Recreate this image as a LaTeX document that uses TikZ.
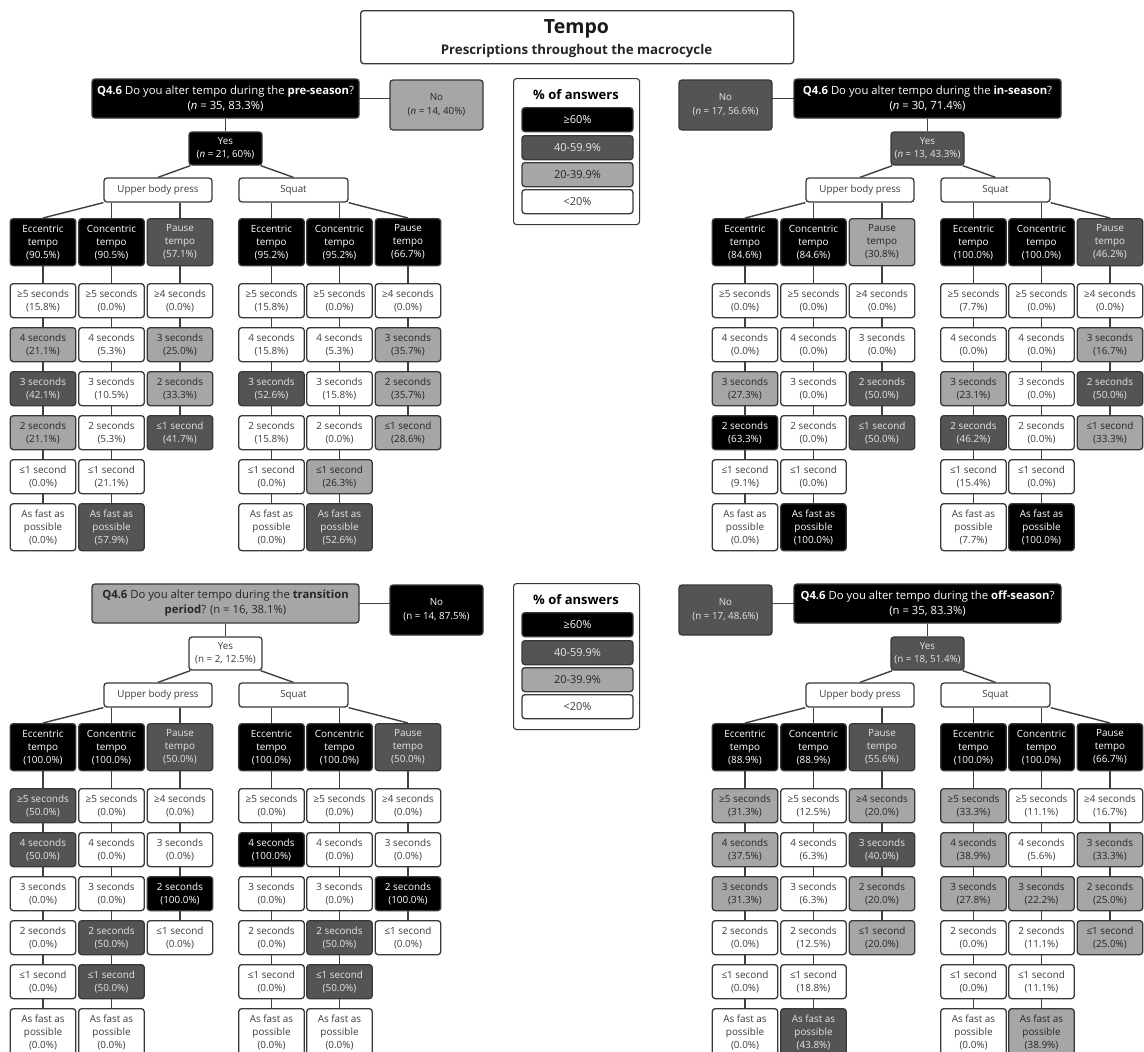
\documentclass[tikz,border=0pt]{standalone}
\usepackage{fontspec}
\setmainfont{Open Sans}
\usetikzlibrary{calc}
\pgfdeclarelayer{bg}
\pgfsetlayers{bg,main}

% shade scale: K >= 60 %, D 40-59.9 %, L 20-39.9 %, W < 20 %
\definecolor{fillK}{HTML}{000000}
\definecolor{fillD}{HTML}{545454}
\definecolor{fillL}{HTML}{A6A6A6}
\definecolor{fillW}{HTML}{FFFFFF}
\definecolor{txtK}{HTML}{FFFFFF}
\definecolor{txtD}{HTML}{E6E6E6}
\definecolor{txtL}{HTML}{262626}
\definecolor{txtW}{HTML}{3C3C3C}
\definecolor{edge}{HTML}{383838}
\definecolor{wirecol}{HTML}{404040}

\tikzset{
  box/.style={draw=edge, line width=1.3pt, rounded corners=3pt, align=center, inner sep=0pt},
  tone/.style={fill=fill#1, text=txt#1},
  cell/.style={box, font=\fontsize{9.9}{13}\selectfont, minimum width=65.5pt},
  qfont/.style={font=\fontsize{11.3}{15}\selectfont},
  smallfont/.style={font=\fontsize{9.8}{13.5}\selectfont},
  groupfont/.style={font=\fontsize{9.8}{11}\selectfont},
  wire/.style={draw=wirecol, line width=1.4pt},
}

% row captions: e = eccentric/concentric column, p = pause column
\newcommand{\setlbl}[2]{%
  \if#1e%
    \ifcase#2\or\def\lbl{≥5 seconds}\or\def\lbl{4 seconds}\or\def\lbl{3 seconds}%
    \or\def\lbl{2 seconds}\or\def\lbl{≤1 second}\or\def\lbl{As fast as\\possible}\fi
  \else
    \ifcase#2\or\def\lbl{≥4 seconds}\or\def\lbl{3 seconds}\or\def\lbl{2 seconds}%
    \or\def\lbl{≤1 second}\fi
  \fi}

% one tempo column: #1 name, #2 kind, #3 x centre, #4 tone, #5 tempo type, #6 percent, #7 tone/percent rows
\newcommand{\tcol}[7]{%
  \node[cell, tone=#4, minimum height=47pt, anchor=north] (#1-0) at (#3,218) {#5\\tempo\\(#6\%)};
  \foreach \tonecode/\pct [count=\i] in {#7} {
    \pgfmathtruncatemacro{\j}{\i-1}
    \pgfmathsetmacro{\rowtop}{283+44*(\i-1)}
    \setlbl{#2}{\i}
    \ifnum\i=6 \def\hh{47}\else\def\hh{34}\fi
    \node[cell, tone=\tonecode, minimum height=\hh pt, anchor=north] (#1-\i) at (#3,\rowtop) {\lbl\\(\pct\%)};
    \draw[wire] (#1-\j.south) -- (#1-\i.north);
  }
}

% question, answers and exercise boxes of one period
% #1 name, #2 question tone, #3 question, #4 "No" tone, #5 "No" text, #6 "No" x centre, #7 "Yes" tone, #8 "Yes" text
\newcommand{\panelhead}[8]{%
  \node[box, tone=#2, qfont, minimum width=267pt, minimum height=39pt] (#1-q) at (225.5,98.5) {#3};
  \node[box, tone=#4, smallfont, minimum width=93pt, minimum height=50pt] (#1-no) at (#6,105) {#5};
  \node[box, tone=#7, smallfont, minimum width=73pt, minimum height=33pt] (#1-yes) at (225.5,148.5) {#8};
  \node[box, tone=W, groupfont, minimum width=108pt, minimum height=24pt] (#1-ub) at (158,190) {Upper body press};
  \node[box, tone=W, groupfont, minimum width=109pt, minimum height=24pt] (#1-sq) at (293.5,190) {Squat};
  \begin{pgfonlayer}{bg}
    \draw[wire] (#1-q.center) -- (#1-q.center -| #1-no.center);
  \end{pgfonlayer}
  \draw[wire] (#1-q.south) -- (#1-yes.north);
  \draw[wire] ([xshift=2pt]#1-yes.south west) -- (#1-ub.north);
  \draw[wire] ([xshift=-2pt]#1-yes.south east) -- (#1-sq.north);
}

% connectors from the exercise boxes to the tempo columns
\newcommand{\links}[1]{%
  \draw[wire] (#1-ub.south west) -- (#1-ue-0.north);
  \draw[wire] (#1-uc-0.north |- #1-ub.south) -- (#1-uc-0.north);
  \draw[wire] (#1-up-0.north |- #1-ub.south) -- (#1-up-0.north);
  \draw[wire] (#1-se-0.north |- #1-sq.south) -- (#1-se-0.north);
  \draw[wire] (#1-sc-0.north |- #1-sq.south) -- (#1-sc-0.north);
  \draw[wire] (#1-sq.south east) -- (#1-sp-0.north);
}

% shade legend: #1 name
\newcommand{\shadelegend}[1]{%
  \node[box, draw=edge, line width=1.1pt, fill=white, minimum width=126pt, minimum height=146pt, anchor=north west] (#1) at (513,78) {};
  \node[font=\bfseries\fontsize{13}{15}\selectfont, text=black] (#1-t) at (576,95) {\% of answers};
  \foreach \tonecode/\txt/\ytop [count=\i] in {K/≥60\%/107, D/40-59.9\%/135, L/20-39.9\%/162, W/<20\%/189} {
    \node[box, tone=\tonecode, font=\fontsize{11}{12}\selectfont, minimum width=111pt, minimum height=24pt, anchor=north] (#1-\i) at (577.5,\ytop) {\txt};
  }
}

\begin{document}
\begin{tikzpicture}[x=1pt, y=-1pt]
\useasboundingbox (0,0) rectangle (1144,1052);
\clip (0,0) rectangle (1144,1052);
\begin{pgfonlayer}{bg}
  \fill[white] (0,0) rectangle (1144,1052);
\end{pgfonlayer}

% heading
\node[box, fill=white, minimum width=433pt, minimum height=53pt, anchor=north west] (title) at (360,10) {};
\node[font=\bfseries\fontsize{19.5}{22}\selectfont, text=black!90] (title-main) at (576.5,28.5) {Tempo};
\node[font=\bfseries\fontsize{13.3}{15}\selectfont, text=black!85] (title-sub) at (576.5,51) {Prescriptions throughout the macrocycle};

% ---------------- pre-season ----------------
\begin{scope}
  \panelhead{a}{K}{\textbf{Q4.6} Do you alter tempo during the \textbf{pre-season}?\\(\textit{n} = 35, 83.3\%)}
    {L}{No\\(\textit{n} = 14, 40\%)}{436.5}{K}{Yes\\(\textit{n} = 21, 60\%)}
  \tcol{a-ue}{e}{43}{K}{Eccentric}{90.5}{W/15.8, L/21.1, D/42.1, L/21.1, W/0.0, W/0.0}
  \tcol{a-uc}{e}{111.5}{K}{Concentric}{90.5}{W/0.0, W/5.3, W/10.5, W/5.3, W/21.1, D/57.9}
  \tcol{a-up}{p}{180}{D}{Pause}{57.1}{W/0.0, L/25.0, L/33.3, D/41.7}
  \tcol{a-se}{e}{271.5}{K}{Eccentric}{95.2}{W/15.8, W/15.8, D/52.6, W/15.8, W/0.0, W/0.0}
  \tcol{a-sc}{e}{339.5}{K}{Concentric}{95.2}{W/0.0, W/5.3, W/15.8, W/0.0, L/26.3, D/52.6}
  \tcol{a-sp}{p}{408}{K}{Pause}{66.7}{W/0.0, L/35.7, L/35.7, L/28.6}
  \links{a}
  \shadelegend{lg1}
\end{scope}

% ---------------- in-season ----------------
\begin{scope}[shift={(702,0)}]
  \panelhead{b}{K}{\textbf{Q4.6} Do you alter tempo during the \textbf{in-season}?\\(\textit{n} = 30, 71.4\%)}
    {D}{No\\(\textit{n} = 17, 56.6\%)}{23.5}{D}{Yes\\(\textit{n} = 13, 43.3\%)}
  \tcol{b-ue}{e}{43}{K}{Eccentric}{84.6}{W/0.0, W/0.0, L/27.3, K/63.3, W/9.1, W/0.0}
  \tcol{b-uc}{e}{111.5}{K}{Concentric}{84.6}{W/0.0, W/0.0, W/0.0, W/0.0, W/0.0, K/100.0}
  \tcol{b-up}{p}{180}{L}{Pause}{30.8}{W/0.0, W/0.0, D/50.0, D/50.0}
  \tcol{b-se}{e}{271.5}{K}{Eccentric}{100.0}{W/7.7, W/0.0, L/23.1, D/46.2, W/15.4, W/7.7}
  \tcol{b-sc}{e}{339.5}{K}{Concentric}{100.0}{W/0.0, W/0.0, W/0.0, W/0.0, W/0.0, K/100.0}
  \tcol{b-sp}{p}{408}{D}{Pause}{46.2}{W/0.0, L/16.7, D/50.0, L/33.3}
  \links{b}
\end{scope}

% ---------------- transition period ----------------
\begin{scope}[shift={(0,505)}]
  \panelhead{c}{L}{\textbf{Q4.6} Do you alter tempo during the \textbf{transition}\\\textbf{period}? (n = 16, 38.1\%)}
    {K}{No\\(n = 14, 87.5\%)}{436.5}{W}{Yes\\(n = 2, 12.5\%)}
  \tcol{c-ue}{e}{43}{K}{Eccentric}{100.0}{D/50.0, D/50.0, W/0.0, W/0.0, W/0.0, W/0.0}
  \tcol{c-uc}{e}{111.5}{K}{Concentric}{100.0}{W/0.0, W/0.0, W/0.0, D/50.0, D/50.0, W/0.0}
  \tcol{c-up}{p}{180}{D}{Pause}{50.0}{W/0.0, W/0.0, K/100.0, W/0.0}
  \tcol{c-se}{e}{271.5}{K}{Eccentric}{100.0}{W/0.0, K/100.0, W/0.0, W/0.0, W/0.0, W/0.0}
  \tcol{c-sc}{e}{339.5}{K}{Concentric}{100.0}{W/0.0, W/0.0, W/0.0, D/50.0, D/50.0, W/0.0}
  \tcol{c-sp}{p}{408}{D}{Pause}{50.0}{W/0.0, W/0.0, K/100.0, W/0.0}
  \links{c}
  \shadelegend{lg2}
\end{scope}

% ---------------- off-season ----------------
\begin{scope}[shift={(702,505)}]
  \panelhead{d}{K}{\textbf{Q4.6} Do you alter tempo during the \textbf{off-season}?\\(n = 35, 83.3\%)}
    {D}{No\\(n = 17, 48.6\%)}{23.5}{D}{Yes\\(n = 18, 51.4\%)}
  \tcol{d-ue}{e}{43}{K}{Eccentric}{88.9}{L/31.3, L/37.5, L/31.3, W/0.0, W/0.0, W/0.0}
  \tcol{d-uc}{e}{111.5}{K}{Concentric}{88.9}{W/12.5, W/6.3, W/6.3, W/12.5, W/18.8, D/43.8}
  \tcol{d-up}{p}{180}{D}{Pause}{55.6}{L/20.0, D/40.0, L/20.0, L/20.0}
  \tcol{d-se}{e}{271.5}{K}{Eccentric}{100.0}{L/33.3, L/38.9, L/27.8, W/0.0, W/0.0, W/0.0}
  \tcol{d-sc}{e}{339.5}{K}{Concentric}{100.0}{W/11.1, W/5.6, L/22.2, W/11.1, W/11.1, L/38.9}
  \tcol{d-sp}{p}{408}{K}{Pause}{66.7}{W/16.7, L/33.3, L/25.0, L/25.0}
  \links{d}
\end{scope}
\end{tikzpicture}
\end{document}
